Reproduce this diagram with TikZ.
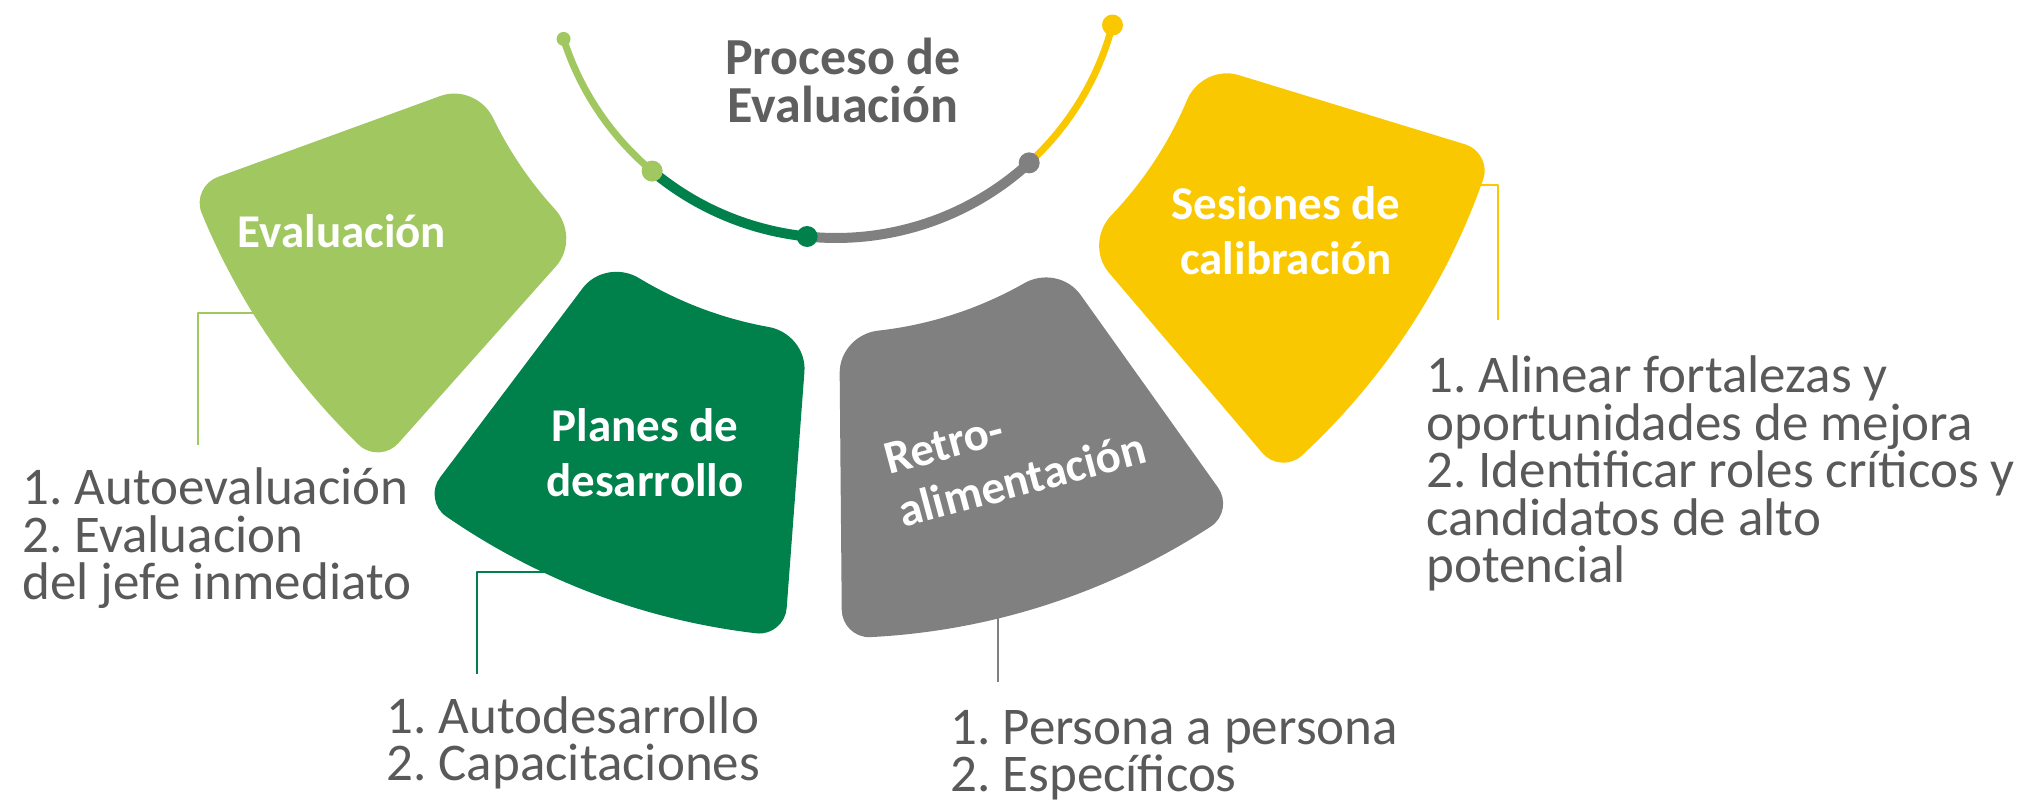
\documentclass[tikz,border=0pt]{standalone}
\usepackage{fontspec}
\setmainfont{Carlito}
\definecolor{lgreen}{RGB}{161,199,97}
\definecolor{dgreen}{RGB}{0,129,76}
\definecolor{midgray}{RGB}{128,128,128}
\definecolor{gold}{RGB}{250,200,0}
\definecolor{txtgray}{RGB}{89,89,89}
\frenchspacing
\begin{document}
\begin{tikzpicture}[x=0.5pt, y=0.5pt, line join=round,
	lbl/.style={text=white, font=\fontsize{23.5}{27.5}\selectfont\bfseries, align=center, inner sep=0},
	items/.style={text=txtgray, font=\fontsize{26.5}{23.75}\selectfont, align=left, anchor=base west, inner sep=0},
	lead/.style={line width=0.9pt}]
	\useasboundingbox (0,0) rectangle (2026,-801);
	%\draw[gray!10] (0,0) grid (2026,-801);
	\coordinate (C) at (836,48);
	\coordinate (E1) at (262,-313);
	\coordinate (E2) at (198,-445);
	\coordinate (P1) at (552,-572);
	\coordinate (P2) at (477,-674);
	\coordinate (R1) at (998,-600);
	\coordinate (R2) at (998,-682);
	\coordinate (S1) at (1470,-185);
	\coordinate (S2) at (1498,-320);
	\draw[lead, lgreen] (E1) -| (E2);
	\draw[lead, dgreen] (P1) -| (P2);
	\draw[lead, midgray] (R1) -- (R2);
	\draw[lead, gold] (S1) -| (S2);
	\begin{scope}[shift={(C)}]
		% petals
		\fill[lgreen] (-160:421) -- (-160:658) .. controls (-160:673) and ({-160+1.05}:686) .. ({-160+2.34}:686)
			arc[start angle=-160+2.34, end angle=-131.7-2.34, radius=686]
			.. controls ({-131.7-1.05}:686) and (-131.7:673) .. (-131.7:658) -- (-131.7:421)
			.. controls (-131.7:399) and ({-131.7-2.71}:381) .. ({-131.7-6.02}:381)
			arc[start angle=-131.7-6.02, end angle=-160+6.02, radius=381]
			.. controls ({-160+2.71}:381) and (-160:399) .. (-160:421) -- cycle;
		\fill[dgreen] (-127:421) -- (-127:658) .. controls (-127:673) and ({-127+1.05}:686) .. ({-127+2.34}:686)
			arc[start angle=-127+2.34, end angle=-94.3-2.34, radius=686]
			.. controls ({-94.3-1.05}:686) and (-94.3:673) .. (-94.3:658) -- (-94.3:421)
			.. controls (-94.3:399) and ({-94.3-2.71}:381) .. ({-94.3-6.02}:381)
			arc[start angle=-94.3-6.02, end angle=-127+6.02, radius=381]
			.. controls ({-127+2.71}:381) and (-127:399) .. (-127:421) -- cycle;
		\fill[midgray] (-89.5:421) -- (-89.5:658) .. controls (-89.5:673) and ({-89.5+1.05}:686) .. ({-89.5+2.34}:686)
			arc[start angle=-89.5+2.34, end angle=-54.5-2.34, radius=686]
			.. controls ({-54.5-1.05}:686) and (-54.5:673) .. (-54.5:658) -- (-54.5:421)
			.. controls (-54.5:399) and ({-54.5-2.71}:381) .. ({-54.5-6.02}:381)
			arc[start angle=-54.5-6.02, end angle=-89.5+6.02, radius=381]
			.. controls ({-89.5+2.71}:381) and (-89.5:399) .. (-89.5:421) -- cycle;
		\fill[gold] (-49.6:421) -- (-49.6:658) .. controls (-49.6:673) and ({-49.6+1.05}:686) .. ({-49.6+2.34}:686)
			arc[start angle=-49.6+2.34, end angle=-17-2.34, radius=686]
			.. controls ({-17-1.05}:686) and (-17:673) .. (-17:658) -- (-17:421)
			.. controls (-17:399) and ({-17-2.71}:381) .. ({-17-6.02}:381)
			arc[start angle=-17-6.02, end angle=-49.6+6.02, radius=381]
			.. controls ({-49.6+2.71}:381) and (-49.6:399) .. (-49.6:421) -- cycle;
		% process arc
		\draw[lgreen, line width=3.5pt] (-162.3:286) arc[start angle=-162.3, end angle=-130, radius=286];
		\draw[dgreen, line width=5pt] (-130:286) arc[start angle=-130, end angle=-95.8, radius=286];
		\draw[midgray, line width=5pt] (-95.8:286) arc[start angle=-95.8, end angle=-47.5, radius=286];
		\draw[gold, line width=3.5pt] (-47.5:286) arc[start angle=-47.5, end angle=-14.8, radius=286];
		\fill[lgreen] (-162.3:286) circle (7);
		\fill[lgreen] (-130:286) circle (10.5);
		\fill[dgreen] (-95.8:286) circle (10.5);
		\fill[midgray] (-47.5:286) circle (10.5);
		\fill[gold] (-14.8:286) circle (10.5);
	\end{scope}
	\node[text={rgb,255:red,95;green,95;blue,95}, font=\fontsize{26}{24}\selectfont\bfseries, align=center, anchor=base, inner sep=0] (title) at (843,-123) {Proceso de\\Evaluación};
	\node[lbl, anchor=base] (evallbl) at (342,-248) {Evaluación};
	\node[lbl, anchor=base] (planlbl) at (645,-497) {Planes de\\desarrollo};
	\node[lbl, align=left, anchor=base west, rotate=15] (retrolbl) at (903,-528) {Retro-\\alimentación};
	\node[lbl, anchor=base] (seslbl) at (1286,-275) {Sesiones de\\calibración};
	\node[items] (evallist) at (22,-600) {1. Autoevaluación\\2. Evaluacion\\del jefe inmediato};
	\node[items] (planlist) at (386,-781) {1. Autodesarrollo\\2. Capacitaciones};
	\node[items] (retrolist) at (950,-792) {1. Persona a persona\\2. Específicos};
	\node[items] (seslist) at (1426,-583) {1. Alinear fortalezas y\\oportunidades de mejora\\2. Identificar roles críticos y\\candidatos de alto\\potencial};
\end{tikzpicture}
\end{document}
